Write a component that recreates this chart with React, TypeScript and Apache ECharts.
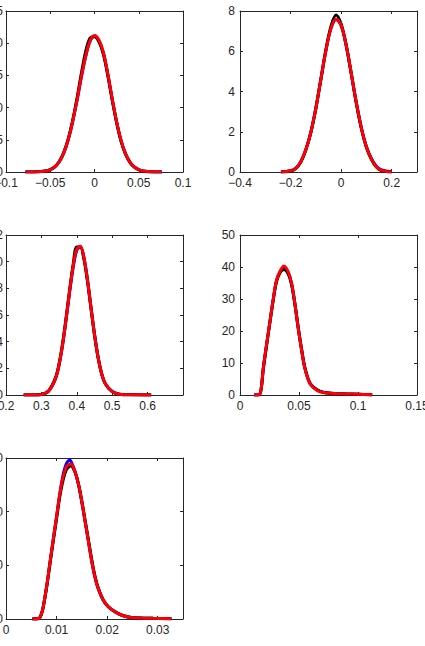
import React, { useEffect, useRef } from 'react';
import * as echarts from 'echarts';

// Panel 1
const p1X = [-0.078, -0.07, -0.06, -0.055, -0.05, -0.045, -0.04, -0.035, -0.03, -0.025, -0.02, -0.015, -0.01, -0.005, 0, 0.005, 0.01, 0.015, 0.02, 0.025, 0.03, 0.035, 0.04, 0.045, 0.05, 0.055, 0.06, 0.07, 0.076];
const p1Blue = [0, 0.01, 0.06, 0.15, 0.35, 0.77, 1.55, 2.85, 4.85, 7.6, 10.9, 14.6, 17.9, 20.3, 21.1, 20.4, 18.5, 15.2, 11.3, 7.75, 4.85, 2.85, 1.55, 0.78, 0.36, 0.15, 0.06, 0.01, 0];
const p1Black = [0, 0.01, 0.06, 0.15, 0.37, 0.8, 1.6, 2.95, 5.0, 7.8, 11.3, 15.2, 18.7, 20.8, 21.0, 20.2, 18.3, 15.0, 11.2, 7.7, 4.8, 2.8, 1.5, 0.75, 0.35, 0.14, 0.05, 0.01, 0];
const p1Red = [0, 0.01, 0.06, 0.15, 0.36, 0.78, 1.56, 2.87, 4.88, 7.65, 11.0, 14.7, 18.0, 20.35, 21.2, 20.5, 18.6, 15.3, 11.4, 7.8, 4.9, 2.85, 1.55, 0.78, 0.36, 0.15, 0.06, 0.01, 0];

// Panel 2
const p2X = [-0.238, -0.2, -0.18, -0.16, -0.14, -0.12, -0.1, -0.08, -0.06, -0.04, -0.02, 0, 0.02, 0.04, 0.06, 0.08, 0.1, 0.12, 0.14, 0.16, 0.2];
const p2Blue = [0, 0.06, 0.18, 0.5, 1.1, 1.97, 3.18, 4.62, 6.05, 7.15, 7.58, 7.27, 6.28, 4.9, 3.45, 2.2, 1.26, 0.66, 0.27, 0.1, 0.01];
const p2Black = [0, 0.05, 0.17, 0.48, 1.08, 1.95, 3.15, 4.62, 6.1, 7.25, 7.8, 7.35, 6.3, 4.88, 3.42, 2.15, 1.22, 0.62, 0.24, 0.07, 0];
const p2Red = [0, 0.06, 0.18, 0.5, 1.1, 1.96, 3.17, 4.61, 6.04, 7.14, 7.6, 7.29, 6.3, 4.91, 3.45, 2.18, 1.24, 0.64, 0.25, 0.08, 0];

// Panel 3
const p3X = [0.25, 0.28, 0.3, 0.32, 0.34, 0.35, 0.36, 0.37, 0.38, 0.39, 0.4, 0.41, 0.42, 0.43, 0.44, 0.45, 0.46, 0.47, 0.48, 0.5, 0.52, 0.55, 0.61];
const p3Blue = [0, 0, 0.04, 0.28, 1.23, 2.26, 3.76, 5.68, 7.75, 9.6, 10.85, 11.12, 10.33, 8.7, 6.62, 4.58, 2.87, 1.63, 0.89, 0.26, 0.06, 0.01, 0];
const p3Black = [0, 0, 0.04, 0.3, 1.3, 2.35, 3.9, 5.85, 7.95, 9.85, 11.1, 11.1, 10.2, 8.55, 6.5, 4.5, 2.82, 1.6, 0.87, 0.25, 0.06, 0.01, 0];
const p3Red = [0, 0, 0.04, 0.28, 1.25, 2.29, 3.81, 5.74, 7.84, 9.72, 10.94, 11.15, 10.31, 8.65, 6.58, 4.54, 2.84, 1.61, 0.88, 0.25, 0.06, 0.01, 0];

// Panel 4
const p4X = [0.012, 0.0155, 0.0172, 0.0185, 0.0197, 0.0226, 0.0254, 0.0282, 0.031, 0.0344, 0.0372, 0.0409, 0.0437, 0.0465, 0.0493, 0.0522, 0.055, 0.0592, 0.0648, 0.0705, 0.08, 0.09, 0.1, 0.112];
const p4Blue = [0, 0, 0.6, 3.6, 8.2, 15.9, 23, 29.9, 35.8, 38.8, 39.6, 38.1, 34.8, 28.6, 21.2, 14.2, 8.5, 3.7, 1.7, 0.85, 0.5, 0.35, 0.25, 0.05];
const p4Black = [0, 0, 0.6, 3.5, 8.0, 15.7, 22.8, 29.8, 35.5, 38.5, 39.2, 37.8, 34.5, 28.4, 21, 14.2, 8.5, 3.8, 1.7, 0.8, 0.45, 0.3, 0.2, 0.03];
const p4Red = [0, 0, 0.6, 3.7, 8.3, 16, 23, 30, 36, 39, 40.3, 38.5, 35, 28.6, 21, 14, 8.3, 3.6, 1.6, 0.8, 0.5, 0.35, 0.25, 0.05];

// Panel 5
const p5X = [0.0052, 0.0065, 0.00704, 0.00737, 0.00803, 0.00868, 0.00934, 0.01, 0.01066, 0.01132, 0.01197, 0.01263, 0.01283, 0.01362, 0.01428, 0.01493, 0.01559, 0.01625, 0.01691, 0.01757, 0.01822, 0.01921, 0.0202, 0.02151, 0.02283, 0.02447, 0.02645, 0.02908, 0.0327];
const p5Blue = [0, 0.5, 5.3, 11.5, 30, 52, 74, 95.5, 117.5, 135, 145, 147.8, 147, 138, 126.5, 110.5, 92, 73.5, 54.8, 39.3, 28.5, 17.6, 11.4, 6.8, 3.7, 1.6, 0.9, 0.6, 0.3];
const p5Black = [0, 0.5, 5.2, 11.2, 29.5, 51, 72.5, 93.5, 114.5, 130, 139.5, 142.5, 142.8, 137, 126.5, 111.5, 93.5, 75, 56.5, 40.5, 29.2, 18, 11.7, 6.9, 3.7, 1.6, 0.9, 0.6, 0.3];
const p5Red = [0, 0.5, 5.3, 11.5, 30, 52, 74, 95.5, 117, 133, 142, 144.5, 144.7, 137.6, 126.7, 111, 92.4, 73.8, 55, 39.5, 28.6, 17.7, 11.5, 6.8, 3.7, 1.6, 0.9, 0.6, 0.3];

// Axis ranges (min, max, tick step)
const xRanges = [
  [-0.1, 0.1, 0.05],
  [-0.4, 0.3, 0.2],
  [0.2, 0.7, 0.1],
  [0, 0.15, 0.05],
  [0, 0.035, 0.01],
];
const xShowMaxLabel = [true, false, false, true, false];
const yRanges = [
  [0, 25, 5],
  [0, 8, 2],
  [0, 12, 2],
  [0, 50, 10],
  [0, 150, 50],
];

const panelData = [
  { x: p1X, blue: p1Blue, black: p1Black, red: p1Red },
  { x: p2X, blue: p2Blue, black: p2Black, red: p2Red },
  { x: p3X, blue: p3Blue, black: p3Black, red: p3Red },
  { x: p4X, blue: p4Blue, black: p4Black, red: p4Red },
  { x: p5X, blue: p5Blue, black: p5Black, red: p5Red },
];

const gridBoxes = [
  { left: 6, top: 11, width: 177, height: 161 },
  { left: 240, top: 11, width: 177, height: 161 },
  { left: 6, top: 235, width: 177, height: 160 },
  { left: 240, top: 235, width: 177, height: 160 },
  { left: 6, top: 458, width: 177, height: 161 },
];
const yLabelMargins = [3, 5, 3, 5, 3];

const AXIS_COLOR = '#262626';
const FONT = '"Liberation Sans", Arial, Helvetica, sans-serif';

const fmt = (v: number) => {
  const r = Math.round(v * 1e6) / 1e6;
  if (r === 0) return '0';
  return (r < 0 ? '\u2212' : '') + String(Math.abs(r));
};

function buildOption() {
  const grid: any[] = [];
  const xAxis: any[] = [];
  const yAxis: any[] = [];
  const series: any[] = [];
  const line = { show: true, onZero: false, lineStyle: { color: AXIS_COLOR, width: 1 } };
  const tick = { show: true, inside: true, length: 3, lineStyle: { color: AXIS_COLOR, width: 1 } };
  panelData.forEach((p, i) => {
    grid.push({ ...gridBoxes[i], containLabel: false, outerBoundsMode: 'none' });
    const [xmin, xmax, xstep] = xRanges[i];
    const [ymin, ymax, ystep] = yRanges[i];
    const xBase = { type: 'value', gridIndex: i, min: xmin, max: xmax, interval: xstep, splitLine: { show: false }, axisLine: line, axisTick: tick };
    const yBase = { type: 'value', gridIndex: i, min: ymin, max: ymax, interval: ystep, splitLine: { show: false }, axisLine: line, axisTick: tick };
    xAxis.push({
      ...xBase,
      position: 'bottom',
      axisLabel: {
        show: true, margin: 5, color: AXIS_COLOR, fontSize: 12, fontFamily: FONT,
        formatter: fmt, showMaxLabel: xShowMaxLabel[i], showMinLabel: true, hideOverlap: false,
      },
    });
    xAxis.push({ ...xBase, position: 'top', axisLabel: { show: false } });
    yAxis.push({
      ...yBase,
      position: 'left',
      axisLabel: { show: true, margin: yLabelMargins[i], color: AXIS_COLOR, fontSize: 12, fontFamily: FONT, formatter: fmt },
    });
    yAxis.push({ ...yBase, position: 'right', axisLabel: { show: false } });
    const mk = (ys: number[], color: string) => ({
      type: 'line',
      xAxisIndex: 2 * i,
      yAxisIndex: 2 * i,
      data: p.x.map((xv, k) => [xv, ys[k]]),
      showSymbol: false,
      smooth: 0.35,
      lineStyle: { color, width: 3 },
      itemStyle: { color },
    });
    series.push(mk(p.blue, '#0000ff'));
    series.push(mk(p.black, '#000000'));
    series.push(mk(p.red, '#ff0000'));
  });
  return { animation: false, backgroundColor: '#ffffff', grid, xAxis, yAxis, series };
}

export default function App() {
  const ref = useRef<HTMLDivElement>(null);
  useEffect(() => {
    if (!ref.current) return;
    const chart = echarts.init(ref.current, undefined, { renderer: 'svg' });
    chart.setOption(buildOption() as any);
    return () => chart.dispose();
  }, []);
  return (
    <div
      ref={ref}
      style={{ position: 'absolute', left: 0, top: 0, width: 425, height: 646, background: '#fff', overflow: 'hidden' }}
    />
  );
}
